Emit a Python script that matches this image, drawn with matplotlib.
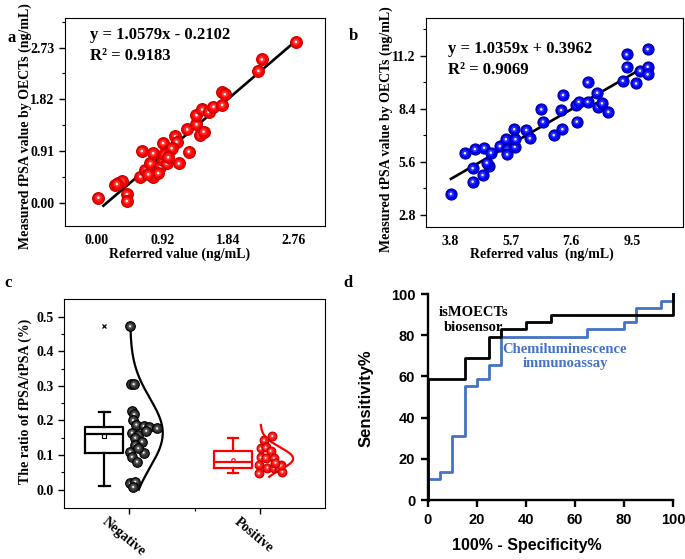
import numpy as np
import matplotlib
matplotlib.use("Agg")
import matplotlib.pyplot as plt
from matplotlib.transforms import offset_copy

SERIF = "Liberation Serif"
SANS = "Liberation Sans"

# panel a: referred vs measured fPSA
a_x = [0.02, 0.42, 0.42, 0.25, 0.30, 0.35, 0.28, 0.63, 0.61, 0.68, 0.75, 0.79, 0.79, 0.84,
       0.89, 0.93, 0.93, 0.98, 1.03, 1.10, 1.12, 1.15, 1.29, 1.27, 1.40, 1.40, 1.45, 1.50,
       1.48, 1.57, 1.64, 1.76, 1.76, 1.80, 2.27, 2.32, 2.80, 0.86, 1.05, 0.72, 0.95, 1.00]
a_y = [0.09, 0.15, 0.03, 0.31, 0.35, 0.38, 0.33, 0.91, 0.46, 0.58, 0.69, 0.87, 0.46, 0.55,
       0.63, 0.75, 1.05, 0.69, 0.93, 1.17, 1.07, 0.69, 0.90, 1.29, 1.38, 1.54, 1.19, 1.25,
       1.64, 1.60, 1.69, 1.72, 1.94, 1.91, 2.32, 2.52, 2.83, 0.52, 0.96, 0.50, 0.85, 0.80]

# panel b: referred vs measured tPSA
b_x = [3.83, 4.51, 4.82, 4.51, 5.03, 4.95, 4.27, 4.58, 4.87, 5.08, 5.36, 5.55, 5.59, 5.59,
       5.83, 5.85, 5.81, 6.19, 6.30, 6.66, 6.71, 7.05, 7.32, 7.28, 7.34, 7.77, 7.75, 7.83,
       8.11, 8.11, 8.41, 8.43, 8.56, 8.76, 9.21, 9.33, 9.33, 9.63, 9.75, 9.99, 9.99, 9.99]
b_y = [3.91, 4.56, 4.91, 5.27, 5.39, 5.56, 6.06, 6.28, 6.35, 6.09, 6.44, 6.80, 6.27, 6.00,
       6.41, 6.80, 7.33, 7.29, 6.85, 8.38, 7.73, 7.02, 7.33, 8.34, 9.14, 7.73, 8.61, 8.78,
       8.78, 9.81, 9.26, 8.52, 8.70, 8.25, 9.89, 11.28, 10.63, 9.75, 10.42, 10.63, 10.23, 11.56]

# panel c: fPSA/tPSA ratio
neg_x = [1.005, 1.013, 1.032, 1.018, 1.036, 1.026, 1.052, 1.108, 1.152, 1.211, 1.018, 1.069,
         1.044, 1.095, 1.044, 1.005, 1.108, 1.018, 1.057, 1.005, 1.044, 1.028, 1.067, 1.128]
neg_y = [0.472, 0.305, 0.305, 0.226, 0.218, 0.201, 0.188, 0.184, 0.180, 0.177, 0.165, 0.158,
         0.150, 0.139, 0.130, 0.110, 0.107, 0.095, 0.081, 0.018, 0.023, 0.008, 0.120, 0.170]
pos_x = [2.095, 2.031, 2.005, 2.044, 2.082, 2.005, 2.044, 2.108, 1.992, 2.057, 2.108, 2.146,
         2.172, 1.992, 2.160, 2.120]
pos_y = [0.155, 0.143, 0.119, 0.122, 0.112, 0.093, 0.092, 0.091, 0.072, 0.064, 0.062, 0.064,
         0.052, 0.047, 0.070, 0.078]
neg_box = dict(med=0.160, q1=0.107, q3=0.182, whislo=0.010, whishi=0.225, mean=0.155, fliers=[0.472])
pos_box = dict(med=0.080, q1=0.062, q3=0.112, whislo=0.047, whishi=0.149, mean=0.087, fliers=[])

# panel d: ROC curves
oect_fpr = [0, 0, 15, 25, 30, 40, 50, 100, 100]
oect_tpr = [0, 58.6, 69.0, 79.3, 82.8, 86.2, 89.7, 89.7, 100]
clia_fpr = [0, 0, 5, 10, 15, 20, 25, 30, 65, 80, 85, 95, 100]
clia_tpr = [0, 10.3, 13.8, 31.0, 55.2, 58.6, 65.5, 79.3, 82.8, 86.2, 93.1, 96.6, 100]


def spheres(ax, xs, ys, s, face, edge, shine):
    for x, y in zip(xs, ys):
        ax.scatter([x], [y], s=s, c=face, edgecolors=edge, linewidths=0.8, zorder=3)
        ax.scatter([x], [y], s=s * 0.3, c=shine, alpha=0.6, edgecolors="none", zorder=3)
        ax.scatter([x], [y], s=s * 0.05, c="white", alpha=0.95, edgecolors="none", zorder=3)


def serif_ticks(ax):
    for lab in ax.get_xticklabels() + ax.get_yticklabels():
        lab.set_fontfamily(SERIF)
        lab.set_fontweight("bold")
        lab.set_fontsize(10)


fig = plt.figure(figsize=(6.85, 5.59), dpi=100)

# ---- a ----
ax = fig.add_axes([0.0949, 0.5957, 0.3796, 0.3721])
spheres(ax, a_x, a_y, 72, "#ff0000", "#c00000", "#ff5050")
k, b0 = np.polyfit(a_x, a_y, 1)
xx = np.array([min(a_x) + 0.07, max(a_x) - 0.04])
ax.plot(xx, k * xx + b0, color="black", lw=1.9, zorder=2)
ax.set_xlim(-0.45, 3.21)
ax.set_ylim(-0.41, 3.25)
ax.set_xticks([0.00, 0.92, 1.84, 2.76])
ax.set_yticks([0.00, 0.91, 1.82, 2.73])
ax.set_yticks([0.455, 1.365, 2.275, 3.185], minor=True)
ax.set_xticklabels(["0.00", "0.92", "1.84", "2.76"])
ax.set_yticklabels(["0.00", "0.91", "1.82", "2.73"])
ax.tick_params(axis="x", length=0, pad=6)
ax.tick_params(axis="y", which="major", length=4, width=1, direction="out")
ax.tick_params(axis="y", which="minor", length=2.5, width=0.8, direction="out")
serif_ticks(ax)
ax.text(0.096, 0.918, "y = 1.0579x - 0.2102", transform=ax.transAxes, fontfamily=SERIF,
        fontweight="bold", fontsize=12, va="center")
ax.text(0.096, 0.817, "R² = 0.9183", transform=ax.transAxes, fontfamily=SERIF,
        fontweight="bold", fontsize=12, va="center")
ax.set_xlabel("Referred value (ng/mL)", fontfamily=SERIF, fontweight="bold", fontsize=10)
ax.set_ylabel("Measured fPSA value by OECTs (ng/mL)", fontfamily=SERIF, fontweight="bold", fontsize=10)
ax.xaxis.set_label_coords(0.44, -0.105)
ax.yaxis.set_label_coords(-0.128, 0.48)

# ---- b ----
ax = fig.add_axes([0.6219, 0.5945, 0.3752, 0.3727])
spheres(ax, b_x, b_y, 64, "#0000ff", "#000090", "#4a4aff")
k, b0 = np.polyfit(b_x, b_y, 1)
xx = np.array([min(b_x), max(b_x) - 0.25])
ax.plot(xx, k * xx + b0, color="black", lw=1.9, zorder=2)
ax.set_xlim(3.05, 11.1)
ax.set_ylim(2.18, 13.19)
ax.set_xticks([3.8, 5.7, 7.6, 9.5])
ax.set_yticks([2.8, 5.6, 8.4, 11.2])
ax.set_yticks([4.2, 7.0, 9.8, 12.6], minor=True)
ax.tick_params(axis="x", length=0, pad=6)
ax.tick_params(axis="y", which="major", length=4, width=1, direction="out")
ax.tick_params(axis="y", which="minor", length=2.5, width=0.8, direction="out")
serif_ticks(ax)
ax.text(0.086, 0.851, "y = 1.0359x + 0.3962", transform=ax.transAxes, fontfamily=SERIF,
        fontweight="bold", fontsize=12, va="center")
ax.text(0.086, 0.752, "R² = 0.9069", transform=ax.transAxes, fontfamily=SERIF,
        fontweight="bold", fontsize=12, va="center")
ax.set_xlabel("Referred valus  (ng/mL)", fontfamily=SERIF, fontweight="bold", fontsize=10)
ax.set_ylabel("Measured tPSA value by OECTs (ng/mL)", fontfamily=SERIF, fontweight="bold", fontsize=10)
ax.xaxis.set_label_coords(0.45, -0.1)
ax.yaxis.set_label_coords(-0.128, 0.47)

# ---- c ----
ax = fig.add_axes([0.0939, 0.0918, 0.3806, 0.3728])
for st, pos, col in [(neg_box, 0.807, "black"), (pos_box, 1.795, "red")]:
    ax.bxp([st], positions=[pos], widths=0.29, capwidths=0.08, showmeans=True,
           boxprops=dict(color=col, lw=1.6), whiskerprops=dict(color=col, lw=1.6),
           capprops=dict(color=col, lw=1.6), medianprops=dict(color=col, lw=1.6),
           meanprops=dict(marker="s" if col == "black" else "o", markersize=2.5,
                          markerfacecolor="none", markeredgecolor=col, markeredgewidth=0.8),
           flierprops=dict(marker="x", markersize=3, markeredgecolor=col, markeredgewidth=0.9))
for ys, base, col in [(neg_y, 1.005, "black"), (pos_y, 2.005, "red")]:
    m, sd = np.mean(ys), np.std(ys, ddof=1)
    yy = np.linspace(max(m - 3 * sd, min(ys) - 0.01, 0.0), max(m + 3 * sd, max(ys)), 200)
    ax.plot(base + 0.25 * np.exp(-0.5 * ((yy - m) / sd) ** 2), yy, color=col, lw=1.6, zorder=2)
spheres(ax, neg_x, neg_y, 48, "#303030", "black", "#707070")
spheres(ax, pos_x, pos_y, 40, "#ff1010", "#c00000", "#ff5a5a")
ax.set_xlim(0.5, 2.5)
ax.set_ylim(-0.052, 0.55)
ax.set_xticks([1, 2])
ax.set_xticks([1.5], minor=True)
ax.set_xticklabels(["Negative", "Positive"], rotation=-40, ha="center", va="top")
ax.set_yticks([0.0, 0.1, 0.2, 0.3, 0.4, 0.5])
ax.set_yticks(np.arange(0.05, 0.55, 0.1), minor=True)
ax.tick_params(which="major", length=4, width=1, direction="out")
ax.tick_params(axis="x", which="major", pad=2)
ax.tick_params(which="minor", length=2.5, width=0.8, direction="out")
serif_ticks(ax)
for lab in ax.get_xticklabels():
    lab.set_transform(offset_copy(lab.get_transform(), fig=fig, x=-6, y=1, units="dots"))
ax.set_ylabel("The ratio of fPSA/tPSA (%)", fontfamily=SERIF, fontweight="bold", fontsize=10)
ax.yaxis.set_label_coords(-0.125, 0.51)

# ---- d ----
ax = fig.add_axes([0.6244, 0.1055, 0.3585, 0.3685])
ax.step(clia_fpr, clia_tpr, where="post", color="#4472c4", lw=2.0, clip_on=False, zorder=2)
ax.step(oect_fpr, oect_tpr, where="post", color="black", lw=2.0, clip_on=False, zorder=3)
ax.set_xlim(0, 100)
ax.set_ylim(0, 100)
ax.spines["top"].set_visible(False)
ax.spines["right"].set_visible(False)
ax.spines["left"].set_linewidth(1.7)
ax.spines["bottom"].set_linewidth(1.7)
ax.set_xticks(range(0, 101, 20))
ax.set_yticks(range(0, 101, 20))
ax.tick_params(length=5, width=1.7, direction="out", labelsize=10.5, pad=4)
for lab in ax.get_xticklabels() + ax.get_yticklabels():
    lab.set_fontfamily(SANS)
    lab.set_fontweight("bold")
ax.text(18.5, 87.5, "isMOECTs\nbiosensor", fontfamily=SERIF, fontweight="bold", fontsize=10.5,
        ha="center", va="center", linespacing=1.15)
ax.text(55.9, 69.6, "Chemiluminescence\nimmunoassay", color="#4472c4", fontfamily=SERIF,
        fontweight="bold", fontsize=10.5, ha="center", va="center", linespacing=1.15)
ax.set_xlabel("100% - Specificity%", fontfamily=SANS, fontweight="bold", fontsize=11.5)
ax.set_ylabel("Sensitivity%", fontfamily=SANS, fontweight="bold", fontsize=12)
ax.xaxis.set_label_coords(0.403, -0.185)
ax.yaxis.set_label_coords(-0.22, 0.495)

for lab, x, y in [("a", 12, 38), ("b", 353, 36), ("c", 8, 283), ("d", 348, 283)]:
    fig.text(x / 685, 1 - y / 559, lab, fontfamily=SERIF, fontweight="bold", fontsize=12,
             ha="center", va="center")

fig.savefig("out.png", dpi=100)
